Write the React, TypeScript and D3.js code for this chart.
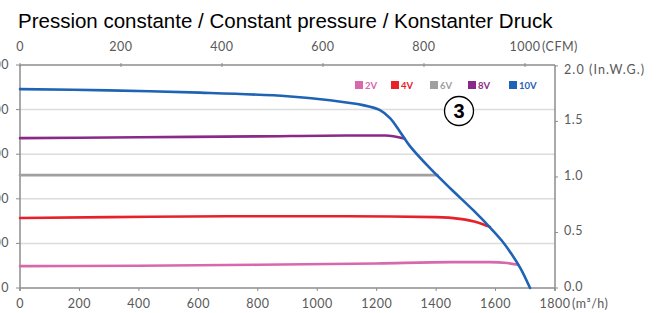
import React from "react";
import * as d3 from "d3";

const W = 657, H = 313;
const title = "Pression constante / Constant pressure / Konstanter Druck";
const xTicks = [0, 200, 400, 600, 800, 1000, 1200, 1400, 1600, 1800];
const yTicks = [0, 100, 200, 300, 400, 500];
const cfmTicks = [0, 200, 400, 600, 800, 1000];
const inTicks = [0, 0.5, 1.0, 1.5, 2.0];
const seriesNames = ["2V", "4V", "6V", "8V", "10V"];
const seriesColors = ["#d868ac", "#e8202a", "#a0a0a0", "#8a2a88", "#1f63b5"];

const v2: [number, number][] = [[0, 49], [400, 50], [800, 52], [1200, 55], [1450, 58], [1580, 58], [1640, 56], [1676, 52]];
const v4: [number, number][] = [[0, 157], [300, 159], [700, 161], [1100, 161], [1400, 159], [1480, 155], [1540, 147], [1581, 137]];
const v6: [number, number][] = [[0, 253], [700, 253], [1405, 253]];
const v8: [number, number][] = [[0, 336], [400, 338], [800, 340], [1100, 342], [1230, 342], [1293, 335]];
const v10: [number, number][] = [[0, 446], [300, 443], [606, 438], [900, 430], [1043, 421], [1154, 410], [1211, 399], [1245, 381], [1279, 350], [1312, 318], [1380, 268], [1450, 222], [1524, 175], [1581, 136], [1620, 107], [1652, 78], [1684, 44], [1716, 0]];
const seriesData = [v2, v4, v6, v8, v10];

export default function App() {
  const left = 20, right = 555, top = 65, bottom = 288;
  const x = d3.scaleLinear().domain([0, 1800]).range([left, right]);
  const y = d3.scaleLinear().domain([0, 500]).range([bottom, top]);
  const xc = d3.scaleLinear().domain([0, 1800 / 1.699]).range([left, right]);
  const yi = d3.scaleLinear().domain([0, 500 / 249]).range([bottom, top]);
  const line = d3.line<[number, number]>().x(d => x(d[0])).y(d => y(d[1])).curve(d3.curveMonotoneX);
  const lineSmooth = d3.line<[number, number]>().x(d => x(d[0])).y(d => y(d[1])).curve(d3.curveCatmullRom.alpha(0.5));
  const axisFont = "Lato, 'Open Sans', sans-serif";
  const axisColor = "#595959";
  const fs = 12.5;
  const ls = 0.5;
  const legendX = [355, 391, 430, 468, 509];
  return (
    <svg width={W} height={H} style={{ position: "absolute", left: 0, top: 0, background: "#fff" }}>
      <text x={18} y={28} fontFamily="'Liberation Sans', Arial, sans-serif" fontSize={20.5} fill="#000">{title}</text>
      {yTicks.filter(t => t > 0 && t < 500).map(t => (
        <line key={t} x1={left} x2={right} y1={y(t)} y2={y(t)} stroke="#dcdcdc" strokeWidth={1.5} />
      ))}
      {/* top axis */}
      <line x1={left} x2={right} y1={top} y2={top} stroke="#8c8c8c" strokeWidth={1.5} />
      {cfmTicks.map(t => (
        <g key={t}>
          <line x1={xc(t)} x2={xc(t)} y1={top - 2} y2={top + 2} stroke="#8c8c8c" />
          <text x={xc(t)} y={51} textAnchor="middle" fontFamily={axisFont} fontSize={fs} letterSpacing={ls} fill={axisColor}>{String(t)}</text>
        </g>
      ))}
      <text x={xc(1000) + 17} y={51} fontFamily={axisFont} fontSize={fs} letterSpacing={ls} fill={axisColor}>(CFM)</text>
      {/* bottom axis */}
      <line x1={left} x2={right} y1={bottom} y2={bottom} stroke="#8c8c8c" strokeWidth={1.5} />
      {xTicks.map(t => (
        <g key={t}>
          <line x1={x(t)} x2={x(t)} y1={bottom} y2={bottom + 3} stroke="#8c8c8c" />
          <text x={x(t)} y={308} textAnchor="middle" fontFamily={axisFont} fontSize={fs} letterSpacing={ls} fill={axisColor}>{String(t)}</text>
        </g>
      ))}
      <text x={x(1800) + 17} y={308} fontFamily={axisFont} fontSize={fs} letterSpacing={ls} fill={axisColor}>(m³/h)</text>
      {/* left axis */}
      <line x1={left} x2={left} y1={top} y2={bottom + 3} stroke="#8c8c8c" strokeWidth={1.5} />
      {yTicks.map(t => (
        <g key={t}>
          <line x1={left - 4} x2={left} y1={y(t)} y2={y(t)} stroke="#8c8c8c" />
          <text x={9} y={y(t) + 4} textAnchor="end" fontFamily={axisFont} fontSize={fs} letterSpacing={ls} fill={axisColor}>{String(t)}</text>
        </g>
      ))}
      {/* right axis */}
      <line x1={right} x2={right} y1={top} y2={bottom + 3} stroke="#8c8c8c" strokeWidth={1.5} />
      {inTicks.map(t => (
        <g key={t}>
          <line x1={right} x2={right + 3} y1={yi(t)} y2={yi(t)} stroke="#8c8c8c" />
          <text x={right + 9} y={yi(t) + (t === 2 ? 8 : 3)} fontFamily={axisFont} fontSize={fs} letterSpacing={t === 2 ? 1.1 : ls} fill={axisColor}>
            {t === 2 ? "2.0 (In.W.G.)" : t.toFixed(1)}
          </text>
        </g>
      ))}
      {/* curves */}
      {seriesData.map((s, i) => (
        <path key={i} d={(i === 4 ? lineSmooth(s) : line(s)) || ""} fill="none" stroke={seriesColors[i]} strokeWidth={2.6} strokeLinecap="round" />
      ))}
      {/* legend */}
      {seriesNames.map((n, i) => (
        <g key={n}>
          <rect x={legendX[i]} y={81} width={8} height={8} fill={seriesColors[i]} />
          <text x={legendX[i] + 10} y={89} fontFamily={axisFont} fontWeight="bold" fontSize={9.5} fill={seriesColors[i]}>{n}</text>
        </g>
      ))}
      <circle cx={459} cy={111} r={14.5} fill="#fff" stroke="#000" strokeWidth={1.3} />
      <text x={459} y={118} textAnchor="middle" fontFamily="'Liberation Sans', Arial, sans-serif" fontWeight="bold" fontSize={20} fill="#000">3</text>
    </svg>
  );
}
